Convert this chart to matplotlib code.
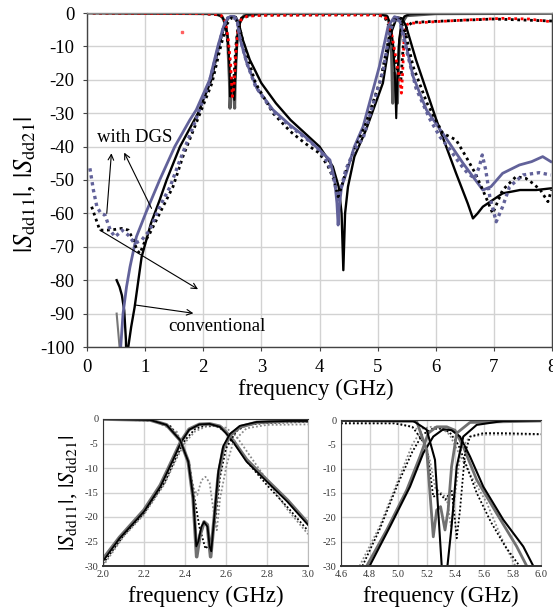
import numpy as np
import matplotlib
matplotlib.use('Agg')
import matplotlib.pyplot as plt

plt.rcParams['font.family'] = ['Liberation Serif', 'DejaVu Serif']
plt.rcParams['mathtext.fontset'] = 'stix'
plt.rcParams['axes.unicode_minus'] = False

# ---------------- main chart data (0-8 GHz) ----------------
# Sdd21, simulated with DGS (purple solid)
f21_sim_dgs = [0.58, 0.62, 0.68, 0.74, 0.85, 1.02, 1.25, 1.51, 1.77, 1.88, 2.11, 2.25, 2.35, 2.42, 2.47,
               2.53, 2.58, 2.63, 2.75, 2.92, 3.2, 3.49, 3.75, 4.0, 4.18, 4.26, 4.3, 4.32, 4.34, 4.38, 4.46,
               4.6, 4.75, 5.03, 5.18, 5.29, 5.36, 5.43, 5.61, 5.84, 6.12, 6.47, 6.81, 6.95, 7.15, 7.44,
               7.65, 7.84, 7.98]
s21_sim_dgs = [-100, -90, -82, -76, -67, -59.5, -50, -40, -32, -29, -20, -10, -4, -1.5, -1,
               -1, -2, -7.6, -15, -22.5, -29, -33.5, -37, -41, -44, -50, -57, -63.5, -58, -52, -48,
               -40, -34, -16, -4, -1.1, -1.5, -5, -19, -29, -36, -45, -53, -52, -48, -45.5,
               -44.5, -43, -44.5]

# Sdd21, simulated conventional (black solid)
f21_sim_conv = [0.51, 0.56, 0.6, 0.64, 0.67, 0.69, 0.71, 0.76, 0.82, 0.94, 1.1, 1.25, 1.37, 1.6, 1.91,
                2.14, 2.27, 2.36, 2.43, 2.5, 2.56, 2.61, 2.68, 2.8, 3.0, 3.25, 3.5, 3.75, 4.0, 4.23,
                4.33, 4.38, 4.41, 4.44, 4.49, 4.6, 4.8, 5.09, 5.23, 5.33, 5.42, 5.49, 5.66, 6.01, 6.35,
                6.55, 6.64, 6.72, 6.81, 7.15, 7.45, 7.73, 7.98]
s21_sim_conv = [-80, -82, -84.5, -89, -98, -115, -100, -94, -88, -73, -63, -56, -50, -40, -30,
                -20, -10, -4, -1.5, -1, -1.2, -3, -8, -14, -21, -27, -32, -36, -40, -46,
                -52, -60, -77, -60, -52, -43, -35, -21, -6, -1.3, -1.6, -4, -14, -32, -48,
                -57, -61.5, -60, -58, -54, -53, -53, -52.5]

# short gray piece at low frequency
f21_gray_low = [0.51, 0.535, 0.56, 0.58]
s21_gray_low = [-90, -95, -100, -110]

# Sdd21, measured with DGS (purple dotted)
f21_meas_dgs = [0.05, 0.11, 0.17, 0.24, 0.31, 0.4, 0.48, 0.55, 0.6, 0.71, 0.82, 0.94, 1.08, 1.25, 1.43,
                1.6, 1.85, 2.1, 2.25, 2.35, 2.42, 2.5, 2.58, 2.64, 2.75, 2.9, 3.2, 3.5, 3.8, 4.0, 4.15,
                4.25, 4.32, 4.38, 4.45, 4.6, 4.75, 4.92, 5.09, 5.21, 5.3, 5.38, 5.49, 5.66, 5.89, 6.07,
                6.25, 6.41, 6.55, 6.67, 6.75, 6.8, 6.86, 6.93, 7.04, 7.15, 7.27, 7.5, 7.78, 7.98]
s21_meas_dgs = [-46.5, -53, -58, -60, -60.5, -65, -67, -66, -65, -66.5, -69, -68, -65, -58, -52,
                -44, -33, -21, -11, -4, -1.5, -1.2, -2, -8, -15, -22, -29.5, -34, -38, -41, -45,
                -50, -56, -52, -47, -41, -37.5, -27.5, -17.6, -5.6, -1.5, -2.5, -10.6, -22.5, -31.5, -37,
                -41, -45, -48, -49.5, -46, -42.5, -47, -55, -62.5, -58, -52, -48.5, -47.8, -48.5]

# Sdd21, measured conventional (black dotted)
f21_meas_conv = [0.08, 0.14, 0.22, 0.35, 0.48, 0.6, 0.71, 0.8, 0.86, 0.91, 0.98, 1.08, 1.25, 1.48, 1.65,
                 1.9, 2.15, 2.3, 2.4, 2.48, 2.55, 2.62, 2.72, 2.9, 3.2, 3.5, 3.75, 4.0, 4.15, 4.25,
                 4.32, 4.38, 4.46, 4.6, 4.8, 5.05, 5.2, 5.3, 5.38, 5.48, 5.61, 5.85, 6.12, 6.35, 6.52,
                 6.68, 6.81, 6.98, 7.15, 7.38, 7.55, 7.67, 7.8, 7.93, 7.99]
s21_meas_conv = [-58, -61, -65, -65, -64.8, -64.5, -65, -68, -71, -72, -69, -66, -60, -52, -43,
                 -32, -21, -10, -3.5, -1.5, -1.5, -4, -11, -21, -30, -35.5, -39, -42, -46, -50,
                 -55, -52, -47, -41, -33, -20, -7, -1.5, -2, -6, -16, -27, -36, -38, -43,
                 -48, -53, -60, -53, -49, -49.5, -51, -53, -56.5, -53]

# Sdd11, simulated (gray solid / black solid)
f11_sim_a = [0.0, 2.2, 2.32, 2.38, 2.42, 2.45, 2.46, 2.48, 2.5, 2.52, 2.54, 2.55, 2.58, 2.62, 2.7, 3.0,
             5.0, 5.15, 5.2, 5.24, 5.26, 5.29, 5.32, 5.34, 5.37, 5.42, 5.5, 6.0, 8.0]
s11_sim_a = [0, -0.2, -1.0, -3, -8, -20, -28.5, -22, -21, -22, -28.5, -20, -8, -3, -0.8, -0.2,
             -0.1, -0.8, -3, -12, -27, -18, -20, -27, -10, -3, -0.8, -0.2, -0.1]
f11_sim_b = [0.0, 2.2, 2.32, 2.38, 2.42, 2.45, 2.465, 2.49, 2.51, 2.535, 2.56, 2.6, 2.66, 2.75, 3.0,
             5.0, 5.17, 5.23, 5.27, 5.3, 5.32, 5.34, 5.37, 5.41, 5.46, 5.55, 6.0, 8.0]
s11_sim_b = [0, -0.2, -1.0, -3, -7, -16, -25, -20, -20, -26, -15, -5, -1.5, -0.5, -0.2,
             -0.1, -1, -4, -10, -20, -31.5, -20, -8, -3, -1, -0.4, -0.1, 0]

# Sdd11, measured (red dotted / black dotted)
f11_meas_a = [0.1, 1.0, 2.0, 2.3, 2.38, 2.43, 2.47, 2.5, 2.53, 2.56, 2.6, 2.65, 2.75, 3.0, 4.0, 5.0,
              5.12, 5.2, 5.26, 5.32, 5.38, 5.41, 5.43, 5.46, 5.5, 5.55, 6.0, 6.5, 7.15, 7.6, 7.98]
s11_meas_a = [0, -0.1, -0.2, -0.5, -2.5, -8, -15, -25, -22, -12, -5, -2, -1, -0.7, -0.6, -0.6,
              -1, -3, -8, -14, -20, -24, -18, -6, -3.5, -3.1, -2.6, -2.1, -1.6, -1.8, -2.6]
f11_meas_b = [0.1, 2.0, 2.3, 2.38, 2.43, 2.47, 2.5, 2.53, 2.56, 2.6, 2.66, 2.8, 3.0, 5.0, 5.12, 5.2,
              5.26, 5.32, 5.36, 5.4, 5.44, 5.5, 5.6, 6.0, 7.0, 8.0]
s11_meas_b = [0, -0.2, -0.6, -3, -10, -18, -22, -19, -10, -4, -1.5, -0.8, -0.6, -0.5, -1.2, -4,
              -10, -16, -18, -20, -10, -4, -2.8, -2.5, -1.8, -2.4]

# ---------------- zoom 2.0-3.0 GHz ----------------
fa21_k = [2.0, 2.08, 2.2, 2.28, 2.34, 2.38, 2.42, 2.47, 2.52, 2.57, 2.6, 2.64, 2.7, 2.8, 2.9, 3.0]
sa21_k = [-29, -24.4, -18.9, -13.8, -8.5, -4.8, -2.2, -1.1, -1.0, -1.6, -2.9, -5, -8.7, -12.8, -16.9, -21.6]
fa21_g = [2.0, 2.08, 2.2, 2.28, 2.34, 2.38, 2.42, 2.47, 2.52, 2.57, 2.6, 2.64, 2.7, 2.8, 2.9, 3.0]
sa21_g = [-28.6, -24.2, -18.6, -13.5, -8.2, -4.6, -2.1, -1.1, -1.0, -1.5, -2.7, -4.7, -8.3, -12.5, -16.6, -21.3]
fa21_kd = [2.0, 2.1, 2.2, 2.3, 2.36, 2.4, 2.45, 2.5, 2.55, 2.6, 2.65, 2.7, 2.8, 2.9, 3.0]
sa21_kd = [-29.5, -23.8, -19.2, -13, -7.5, -4.3, -2, -1.3, -1.4, -2.6, -5.2, -8.6, -13.5, -18, -22.8]
fa21_gd = [2.0, 2.1, 2.2, 2.3, 2.36, 2.4, 2.45, 2.5, 2.55, 2.6, 2.65, 2.7, 2.8, 2.9, 3.0]
sa21_gd = [-30, -24, -19.5, -13.3, -8, -4.8, -2.5, -1.6, -1.4, -1.8, -3.5, -6.5, -12.5, -18.5, -23.5]

fa11_g = [2.0, 2.23, 2.31, 2.376, 2.416, 2.44, 2.457, 2.473, 2.493, 2.509, 2.525, 2.541, 2.563, 2.587,
          2.62, 2.668, 2.75, 2.9, 3.0]
sa11_g = [0, -0.2, -1.2, -4.3, -8.7, -16.2, -28.1, -23.7, -21, -21.6, -28.1, -21, -11.4, -6,
          -3.3, -1.6, -0.7, -0.4, -0.4]
fa11_k = [2.0, 2.23, 2.31, 2.376, 2.416, 2.44, 2.455, 2.465, 2.48, 2.493, 2.51, 2.52, 2.528, 2.545,
          2.563, 2.587, 2.62, 2.668, 2.75, 2.9, 3.0]
sa11_k = [0, -0.2, -1.2, -4.3, -8.7, -16, -26, -25, -22, -21, -22, -26, -27, -19,
          -10.5, -5.5, -3, -1.4, -0.6, -0.4, -0.4]
fa11_kd = [2.0, 2.25, 2.33, 2.38, 2.42, 2.45, 2.47, 2.5, 2.53, 2.55, 2.57, 2.6, 2.65, 2.7, 2.8, 3.0]
sa11_kd = [0, -0.3, -1.5, -4.5, -9, -17, -22, -26.5, -25, -20, -12, -6, -2.5, -1.2, -0.8, -0.6]
fa11_gd = [2.0, 2.25, 2.36, 2.408, 2.44, 2.46, 2.48, 2.5, 2.52, 2.54, 2.555, 2.571, 2.603, 2.636, 2.7,
           2.8, 3.0]
sa11_gd = [0, -0.4, -2.6, -8, -14, -15.5, -12.5, -11.8, -13, -19, -22.7, -16.2, -9.4, -4.6, -1.9,
           -1.2, -1.1]

# ---------------- zoom 4.6-6.0 GHz ----------------
fb21_k = [4.8, 4.943, 5.083, 5.176, 5.246, 5.316, 5.374, 5.433, 5.503, 5.596, 5.736, 5.876, 5.946]
sb21_k = [-30, -21.9, -13.7, -6.8, -3.4, -1.9, -2.1, -3.4, -7.5, -13.7, -20.5, -26, -30]
fb21_g = [4.78, 4.92, 5.06, 5.153, 5.211, 5.27, 5.34, 5.398, 5.456, 5.55, 5.69, 5.83, 5.9]
sb21_g = [-30, -22.6, -14.4, -7.5, -2.7, -1.4, -1.4, -2.1, -5.5, -12.3, -19.2, -26, -30]
fb21_kd = [4.75, 4.87, 5.0, 5.1, 5.17, 5.24, 5.3, 5.36, 5.42, 5.48, 5.55, 5.65, 5.75, 5.85]
sb21_kd = [-30, -22.5, -13, -6.5, -3, -1.8, -1.8, -2.5, -5, -9.5, -15, -21, -26, -30]
fb21_gd = [4.73, 4.87, 5.01, 5.1, 5.17, 5.23, 5.3, 5.36, 5.42, 5.5, 5.62, 5.72, 5.82]
sb21_gd = [-30, -21.9, -11.6, -5, -1.8, -1.4, -1.6, -3, -6.5, -11, -17, -24, -30]

fb11_k = [4.6, 5.106, 5.2, 5.258, 5.305, 5.32, 5.345, 5.374, 5.41, 5.456, 5.55, 5.736, 6.0]
sb11_k = [-0.1, -0.2, -2, -8.2, -30, -34, -30, -21.9, -9.6, -3.4, -1, -0.2, -0.1]
fb11_g = [4.6, 5.13, 5.2, 5.246, 5.27, 5.297, 5.328, 5.35, 5.374, 5.41, 5.503, 6.0]
sb11_g = [-0.1, -0.3, -6.2, -24, -18.5, -17.8, -22.6, -18.5, -9.6, -2.7, -0.5, -0.2]
fb11_kd = [4.6, 4.97, 5.1, 5.2, 5.246, 5.29, 5.33, 5.374, 5.4, 5.41, 5.433, 5.468, 5.503, 5.596, 5.736,
           6.0]
sb11_kd = [-0.7, -0.7, -1.4, -5.5, -15.8, -15, -16.4, -14.4, -21.2, -24.3, -18.5, -6.8, -3.4, -2.7,
           -2.7, -2.9]
fb11_gd = [4.6, 5.0, 5.15, 5.22, 5.26, 5.3, 5.34, 5.37, 5.4, 5.44, 5.5, 5.6, 6.0]
sb11_gd = [-0.6, -0.6, -2, -8, -14, -15, -16, -22, -15, -6, -3.5, -3, -3]

purple = '#62629a'
dgray = '#5a5a5a'
grid_c = '#d2d2d2'

fig = plt.figure(figsize=(5.53, 6.11), dpi=100)

# ---------------- main axes ----------------
ax = fig.add_axes([87 / 553, 1 - 347 / 611, 465 / 553, 334 / 611])
ax.plot(f11_sim_a, s11_sim_a, color=dgray, lw=2.2)
ax.plot(f11_sim_b, s11_sim_b, color='black', lw=1.5)
ax.plot(f11_meas_b, s11_meas_b, color='black', lw=2, ls=(0, (1, 1.3)))
ax.plot(f11_meas_a, s11_meas_a, color='red', lw=2, ls=(0, (1, 1.3)))
ax.plot(f21_gray_low, s21_gray_low, color='#777777', lw=1.5)
ax.plot(f21_sim_conv, s21_sim_conv, color='black', lw=1.7)
ax.plot(f21_sim_dgs, s21_sim_dgs, color=purple, lw=2.0)
ax.plot(f21_meas_conv, s21_meas_conv, color='black', lw=2, ls=(0, (1, 1.3)))
ax.plot(f21_meas_dgs, s21_meas_dgs, color=purple, lw=2.4, ls=(0, (1, 1.1)))
ax.plot([1.63], [-5.7], 's', color='#ff6060', ms=1.5)

ax.set_xlim(0, 8)
ax.set_ylim(-100, 0)
ax.set_xticks(range(0, 9))
ax.set_yticks(range(-100, 1, 10))
ax.grid(True, color=grid_c, lw=1.0)
ax.set_axisbelow(True)
ax.tick_params(labelsize=13.5, length=3, width=0.8, pad=6, color='#444444')
for s in ax.spines.values():
    s.set_color('#444444')
    s.set_linewidth(1.0)
ax.spines['top'].set_color('#888888')

arr = dict(arrowstyle='->', color='black', lw=0.8, shrinkA=0, shrinkB=0)
ax.annotate('', xy=(0.42, -42), xytext=(0.34, -60), arrowprops=arr)
ax.annotate('', xy=(0.64, -41.8), xytext=(1.11, -58.5), arrowprops=arr)
ax.annotate('', xy=(1.91, -82.7), xytext=(0.22, -65), arrowprops=arr)
ax.annotate('', xy=(1.83, -89.9), xytext=(0.82, -87.4), arrowprops=arr)
ax.text(0.82, -37.4, 'with DGS', fontsize=13.5, ha='center', va='center')
ax.text(2.24, -94, 'conventional', fontsize=13.5, ha='center', va='center')

fig.text(316 / 553, 1 - 389 / 611, 'frequency (GHz)', fontsize=16.5, ha='center', va='center')
fig.text(25 / 553, 1 - 184 / 611, r'$|S_{\rm dd11}|$, $|S_{\rm dd21}|$', fontsize=19,
         rotation=90, ha='center', va='center')


def small_axes(rect, xlim, xticks):
    a = fig.add_axes(rect)
    a.set_xlim(*xlim)
    a.set_ylim(-30, 0)
    a.set_xticks(xticks)
    a.set_xticklabels(['%.1f' % v for v in xticks])
    a.set_yticks(range(-30, 1, 5))
    a.grid(True, color=grid_c, lw=1.0)
    a.set_axisbelow(True)
    a.tick_params(labelsize=7.5, length=0, pad=3, colors='#333333')
    for s in a.spines.values():
        s.set_color('#333333')
    a.spines['bottom'].set_linewidth(1.4)
    a.spines['right'].set_color('#bbbbbb')
    a.set_xlabel('frequency (GHz)', fontsize=16.5, labelpad=5)
    return a


ax2 = small_axes([103 / 553, 1 - 566 / 611, 205 / 553, 147 / 611], (2.0, 3.0),
                 [2.0, 2.2, 2.4, 2.6, 2.8, 3.0])
ax2.plot(fa21_gd, sa21_gd, color='#8a8a8a', lw=1.3, ls=(0, (1, 1.2)))
ax2.plot(fa21_kd, sa21_kd, color='black', lw=1.3, ls=(0, (1, 1.2)))
ax2.plot(fa21_g, sa21_g, color='#707070', lw=2.6)
ax2.plot(fa21_k, sa21_k, color='black', lw=1.3)
ax2.plot(fa11_gd, sa11_gd, color='#8a8a8a', lw=1.3, ls=(0, (1, 1.2)))
ax2.plot(fa11_kd, sa11_kd, color='black', lw=1.3, ls=(0, (1, 1.2)))
ax2.plot(fa11_g, sa11_g, color='#707070', lw=2.6)
ax2.plot(fa11_k, sa11_k, color='black', lw=1.3)
ax2.set_ylabel(r'$|S_{\rm dd11}|$, $|S_{\rm dd21}|$', fontsize=16, labelpad=4)

ax3 = small_axes([341 / 553, 1 - 566 / 611, 200 / 553, 146 / 611], (4.6, 6.0),
                 [4.6, 4.8, 5.0, 5.2, 5.4, 5.6, 5.8, 6.0])
ax3.plot(fb21_gd, sb21_gd, color='#8a8a8a', lw=1.3, ls=(0, (1, 1.2)))
ax3.plot(fb21_kd, sb21_kd, color='black', lw=1.3, ls=(0, (1, 1.2)))
ax3.plot(fb21_g, sb21_g, color='#707070', lw=2.0)
ax3.plot(fb21_k, sb21_k, color='black', lw=1.5)
ax3.plot(fb11_gd, sb11_gd, color='#8a8a8a', lw=1.3, ls=(0, (1, 1.2)))
ax3.plot(fb11_kd, sb11_kd, color='black', lw=1.3, ls=(0, (1, 1.2)))
ax3.plot(fb11_g, sb11_g, color='#707070', lw=2.0)
ax3.plot(fb11_k, sb11_k, color='black', lw=1.5)

fig.savefig('out.png', dpi=100)
